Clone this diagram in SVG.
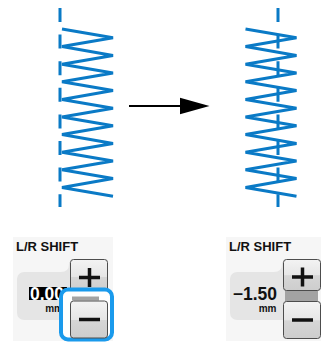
<svg xmlns="http://www.w3.org/2000/svg" width="321" height="343" viewBox="0 0 321 343">
<defs>
<style>
.stitch{fill:none;stroke:#0a7ac6;stroke-width:3}
.dash{fill:none;stroke:#0a7ac6;stroke-width:3;stroke-dasharray:14 12.6}
.lbl{font-family:"Liberation Sans",Arial,sans-serif;font-weight:bold;font-size:13px;fill:#111}
.val{font-family:"Liberation Sans",Arial,sans-serif;font-weight:bold;font-size:17.5px}
.unit{font-family:"Liberation Sans",Arial,sans-serif;font-weight:bold;font-size:10px;fill:#111}
.bg{fill:#f6f6f6}
.box{fill:#e5e5e5}
.btn{fill:url(#btnGrad);stroke:#4d4d4d;stroke-width:1}
.sign{stroke:#111;stroke-width:3.5;fill:none}
.link{fill:#a3a3a3}
</style>
<linearGradient id="btnGrad" x1="0" y1="0" x2="0" y2="1">
<stop offset="0" stop-color="#f3f3f3"/>
<stop offset="0.5" stop-color="#e6e6e6"/>
<stop offset="0.52" stop-color="#d6d6d6"/>
<stop offset="1" stop-color="#cdcdcd"/>
</linearGradient>
<polyline id="zig" class="stitch" points="62,29 113,37.8 62,46.6 113,55.4 62,64.2 113,73 62,81.8 113,90.6 62,99.4 113,108.2 62,117 113,125.8 62,134.6 113,143.4 62,152.2 113,161 62,169.8 113,178.6 62,187.4 113,196.2"/>
</defs>
<rect width="321" height="343" fill="#ffffff"/>

<g id="stitch-before">
<line class="dash" x1="60" y1="8" x2="60" y2="207"/>
<use href="#zig"/>
</g>

<g id="stitch-after">
<line class="dash" x1="278" y1="8" x2="278" y2="207"/>
<use href="#zig" transform="translate(183.5,0)"/>
</g>

<g id="connectors">
<line x1="129" y1="106" x2="182" y2="106" stroke="#000" stroke-width="2"/>
<polygon points="180,97.7 209.5,106 180,114.3" fill="#000"/>
</g>

<g id="panel-before">
<rect class="bg" x="13" y="237" width="100" height="104"/>
<text class="lbl" x="16" y="250.5">L/R SHIFT</text>
<path class="box" d="M17,279 a7,7 0 0 1 7,-7 H61 Q69,272 69,264 V262 H74 V320 H24 a7,7 0 0 1 -7,-7 Z"/>
<rect x="29" y="287" width="38" height="13" fill="#000"/>
<text class="val" x="30" y="299.5" fill="#ffffff">0.00</text>
<text class="unit" x="63" y="311.5" text-anchor="end">mm</text>
<rect class="btn" x="70.5" y="259.5" width="37" height="34" rx="3"/>
<path class="sign" d="M79,277.5 H100 M89.5,268 V287"/>
<rect x="61" y="289.5" width="51" height="50" rx="7" fill="#ffffff" stroke="#1a9aec" stroke-width="4"/>
<rect class="link" x="72" y="296.5" width="27" height="4"/>
<rect class="btn" x="70.5" y="301" width="37" height="37" rx="3"/>
<path class="sign" d="M79,319.5 H100"/>
</g>

<g id="panel-after">
<rect class="bg" x="226" y="237" width="95" height="104"/>
<text class="lbl" x="229" y="250.5">L/R SHIFT</text>
<path class="box" d="M230,279 a7,7 0 0 1 7,-7 H274 Q282,272 282,264 V262 H287 V320 H237 a7,7 0 0 1 -7,-7 Z"/>
<text class="val" x="277" y="300" text-anchor="end" fill="#111">−1.50</text>
<text class="unit" x="276.5" y="311.5" text-anchor="end">mm</text>
<rect class="link" x="285" y="290" width="33" height="12"/>
<rect class="btn" x="283.5" y="259.5" width="37" height="31" rx="3"/>
<path class="sign" d="M292,277 H313 M302.5,267.5 V286.5"/>
<rect class="btn" x="283.5" y="301.5" width="37" height="37" rx="3"/>
<path class="sign" d="M292,320 H313"/>
</g>
</svg>
